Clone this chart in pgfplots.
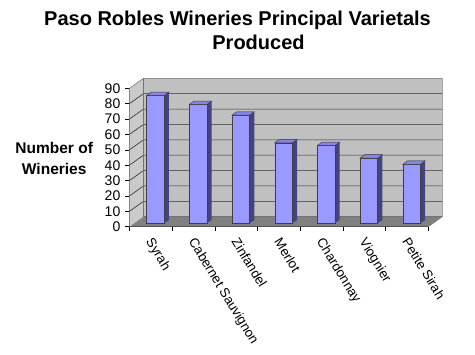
\documentclass[border=0pt]{standalone}
\usepackage{pgfplots}
\usepackage{pgfplotstable}
\pgfplotsset{compat=1.18}
\usepackage{fontspec}
\setmainfont{Liberation Sans}
\definecolor{barfront}{HTML}{9999FF}
\definecolor{barside}{HTML}{43437F}
\definecolor{bartop}{HTML}{8585EC}
\definecolor{wall}{HTML}{C0C0C0}
\definecolor{sidewall}{HTML}{CACACA}
\definecolor{floorc}{HTML}{808080}
\definecolor{gridc}{HTML}{303030}

\pgfdeclareplotmark{topface}{%
  \pgfpathmoveto{\pgfpoint{-8.8pt}{0pt}}%
  \pgfpathlineto{\pgfpoint{8.8pt}{0pt}}%
  \pgfpathlineto{\pgfpoint{13.47pt}{3.33pt}}%
  \pgfpathlineto{\pgfpoint{-4.13pt}{3.33pt}}%
  \pgfpathclose
  \pgfusepathqfillstroke}
\pgfdeclareplotmark{footface}{%
  \pgfpathmoveto{\pgfpoint{8.6pt}{0pt}}%
  \pgfpathlineto{\pgfpoint{13.47pt}{3.33pt}}%
  \pgfpathlineto{\pgfpoint{8.6pt}{3.6pt}}%
  \pgfpathclose
  \pgfusepathqfill}

\pgfplotstableread{
x y
0.5 83.2
1.5 77.4
2.5 70.4
3.5 52.4
4.5 50.7
5.5 42.5
6.5 38.4
}\datatable

\begin{document}
\begin{tikzpicture}
\useasboundingbox (-129.5pt,-128.3pt) rectangle (345.5pt,226.7pt);
\begin{axis}[
  at={(0pt,0pt)}, anchor=south west,
  scale only axis, width=298.8pt, height=138.4pt,
  xmin=0, xmax=7, ymin=0, ymax=90,
  axis lines*=left,
  axis line style={black, line width=0.6pt},
  clip=false,
  ytick={0,10,...,90},
  xtick={0.5,1.5,...,6.5},
  xticklabels={Syrah,Cabernet Sauvignon,Zinfandel,Merlot,Chardonnay,Viognier,Petite Sirah},
  minor xtick={0,1,...,7},
  tick align=outside,
  major tick length=4pt, minor tick length=4pt,
  x tick style={draw=none},
  minor x tick style={draw=black, line width=0.5pt},
  y tick style={black, line width=0.5pt},
  /pgf/number format/assume math mode=true,
  yticklabel style={font=\fontsize{14}{14}\selectfont, inner sep=1pt, xshift=-4pt},
  xticklabel style={font=\fontsize{13.3}{13.3}\selectfont, rotate=-58.5, anchor=north west, inner sep=0pt, xshift=6.5pt, yshift=-0.3pt},
]
% walls and floor
\fill[sidewall] (axis cs:0,0) -- ([shift={(14pt,10pt)}]axis cs:0,0) -- ([shift={(14pt,10pt)}]axis cs:0,90) -- (axis cs:0,90) -- cycle;
\fill[wall] ([shift={(14pt,10pt)}]axis cs:0,0) rectangle ([shift={(14pt,10pt)}]axis cs:7,90);
\fill[floorc] (axis cs:0,0) -- (axis cs:7,0) -- ([shift={(14pt,10pt)}]axis cs:7,0) -- ([shift={(14pt,10pt)}]axis cs:0,0) -- cycle;
\pgfplotsinvokeforeach{10,20,30,40,50,60,70,80}{
  \draw[gridc, line width=0.6pt] (axis cs:0,#1) -- ([shift={(14pt,10pt)}]axis cs:0,#1) -- ([shift={(14pt,10pt)}]axis cs:7,#1);
}
\draw[black!55, line width=0.5pt] (axis cs:0,90) -- ([shift={(14pt,10pt)}]axis cs:0,90) -- ([shift={(14pt,10pt)}]axis cs:7,90) -- ([shift={(14pt,10pt)}]axis cs:7,0) -- (axis cs:7,0);
\draw[black!55, line width=0.5pt] ([shift={(14pt,10pt)}]axis cs:0,90) -- ([shift={(14pt,10pt)}]axis cs:0,0) -- ([shift={(14pt,10pt)}]axis cs:7,0);
% bars: side, foot, front, top
\addplot[ybar, bar width=17.6pt, fill=barside, draw=none, xshift=9.33pt, yshift=6.67pt] table[x=x, y=y] {\datatable};
\addplot[only marks, mark=footface, mark options={fill=barside, draw=none}, xshift=4.67pt, yshift=3.33pt] table[x=x, y expr=0] {\datatable};
\addplot[ybar, bar width=17.6pt, fill=barfront, draw=black!75, line width=0.5pt, xshift=4.67pt, yshift=3.33pt] table[x=x, y=y] {\datatable};
\addplot[only marks, mark=topface, mark options={fill=bartop, draw=black!75, line width=0.5pt}, xshift=4.67pt, yshift=3.33pt] table[x=x, y=y] {\datatable};
\end{axis}
\node[font=\bfseries\fontsize{20}{24}\selectfont, anchor=base] at (108pt,200.7pt) {Paso Robles Wineries Principal Varietals};
\node[font=\bfseries\fontsize{20}{24}\selectfont, anchor=base] at (129pt,177.4pt) {Produced};
\node[font=\bfseries\fontsize{15.5}{18}\selectfont, anchor=base] at (-75.3pt,73.2pt) {Number of};
\node[font=\bfseries\fontsize{15.5}{18}\selectfont, anchor=base] at (-75.3pt,52.4pt) {Wineries};
\end{tikzpicture}
\end{document}
